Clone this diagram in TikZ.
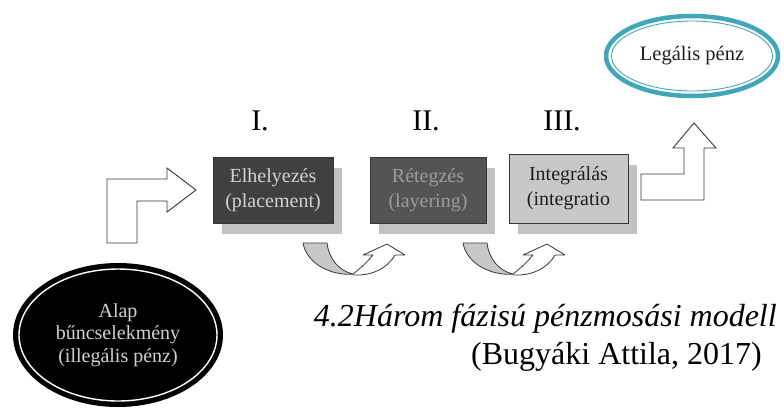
\documentclass[tikz,border=0pt]{standalone}
\usepackage{fontspec}
\setmainfont{Liberation Serif}
\usetikzlibrary{shadows,shapes.geometric}
\definecolor{tealc}{RGB}{64,166,184}
\definecolor{boxa}{RGB}{64,64,64}
\definecolor{boxb}{RGB}{84,84,84}
\definecolor{boxc}{RGB}{200,200,200}
\definecolor{shad}{RGB}{194,194,194}
\definecolor{edgec}{RGB}{55,55,55}
\definecolor{txta}{RGB}{210,210,210}
\definecolor{txtb}{RGB}{155,155,155}
\definecolor{txtc}{RGB}{30,30,30}
\begin{document}
\begin{tikzpicture}[x=1pt,y=-1pt,
  phase/.style={draw=edgec, line width=0.8pt, align=center, inner sep=0pt,
    font=\fontsize{20}{25}\selectfont,
    drop shadow={shadow xshift=9pt, shadow yshift=-11pt, fill=shad, opacity=1}},
  blockarrow/.style={draw=edgec, fill=white, line width=0.9pt, line join=miter},
  uband/.style={draw=edgec, line width=0.8pt, line join=round},
  numeral/.style={font=\fontsize{30}{30}\selectfont, inner sep=0pt},
  caption/.style={anchor=base east, inner sep=0pt, font=\fontsize{32}{38}\selectfont}
]
\useasboundingbox (0,0) rectangle (784,408);

% source ellipse
\node[ellipse, fill=black, minimum width=210pt, minimum height=144pt, inner sep=0pt,
  align=center, text=txta, font=\fontsize{20}{22.5}\selectfont] (alap) at (118,335)
  {Alap\\bűncselekmény\\(illegális pénz)};
\draw[white, line width=1.4pt] (alap.center) ellipse [x radius=99pt, y radius=66pt];

% target ellipse
\node[ellipse, draw=tealc, line width=4.5pt, minimum width=172pt, minimum height=80pt,
  inner sep=0pt, text=txtc, font=\fontsize{20.5}{24}\selectfont] (legal) at (692,56) {Legális pénz};
\draw[tealc, line width=0.9pt] (legal.center) ellipse [x radius=80.5pt, y radius=35pt];

% phase boxes
\node[phase, fill=boxa, text=txta, minimum width=120pt, minimum height=66pt] (place) at (273,190)
  {Elhelyezés\\(placement)};
\node[phase, fill=boxb, text=txtb, minimum width=116pt, minimum height=66pt] (layer) at (428,190)
  {Rétegzés\\(layering)};
\node[phase, fill=boxc, text=txtc, minimum width=119pt, minimum height=69pt] (integ) at (568.5,188.5)
  {Integrálás\\(integratio};

% numerals
\node[numeral] (n1) at (260,121) {I.};
\node[numeral] (n2) at (426,121) {II.};
\node[numeral] (n3) at (562,121) {III.};

% bent arrow from source to first box
\draw[blockarrow] (107,243) -- (107,179) -- (167,179) -- (167,168) -- (196,190)
  -- (167,212) -- (167,201) -- (137,201) -- (137,243) -- cycle;

% bent-up arrow from last box to target
\draw[blockarrow] (641,174) -- (684,174) -- (684,148) -- (673,148) -- (694,123)
  -- (716,148) -- (704,148) -- (704,200) -- (641,200) -- cycle;

% U-turn arrows between boxes
\foreach \dx in {0,160} {
  \begin{scope}[shift={(303+\dx,243)}]
    \filldraw[uband, fill=boxc] (0,0) -- (24,0) .. controls (26,16) and (36,28) .. (50,31)
      .. controls (30,33) and (4,22) .. (0,0) -- cycle;
    \filldraw[uband, fill=white] (50,31) .. controls (58,25) and (65,18) .. (70,12)
      -- (60,12) -- (84,1) -- (102,12) -- (92,12)
      .. controls (84,26) and (68,33) .. (50,32) -- cycle;
  \end{scope}
}

% caption
\node[caption, font=\fontsize{32}{38}\selectfont\itshape] (cap1) at (777,326)
  {4.2Három fázisú pénzmosási modell};
\node[caption] (cap2) at (762,364) {(Bugyáki Attila, 2017)};
\end{tikzpicture}
\end{document}
